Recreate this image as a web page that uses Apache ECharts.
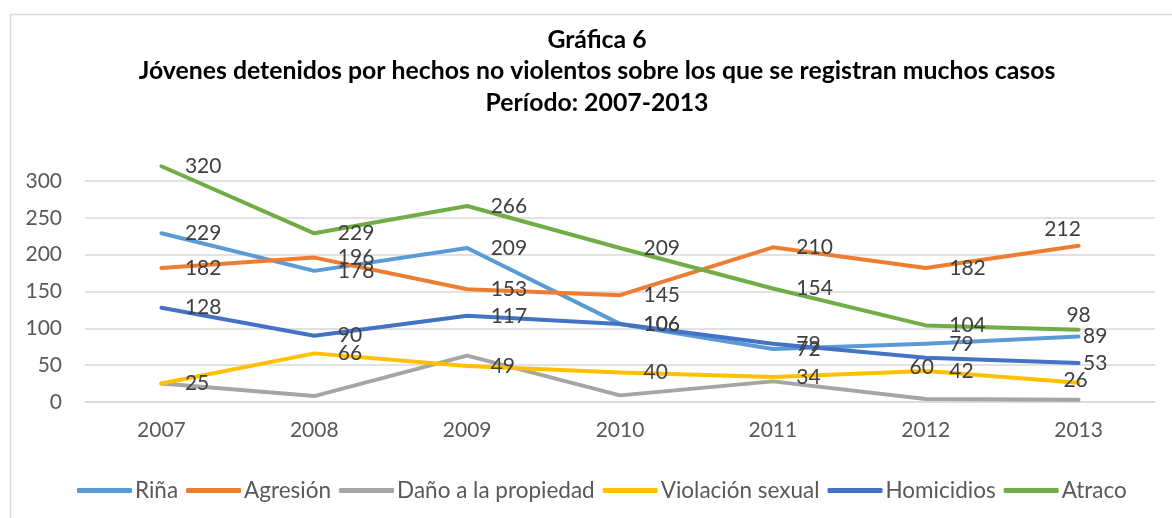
<!DOCTYPE html>
<html>
<head>
<meta charset="utf-8">
<script src="https://cdn.jsdelivr.net/npm/echarts@6/dist/echarts.min.js"></script>
<style>html,body{margin:0;padding:0;background:#fff}#c{width:1172px;height:518px}</style>
</head>
<body>
<div id="c"></div>
<script>
const categories = ['2007', '2008', '2009', '2010', '2011', '2012', '2013'];
const rina = [229, 178, 209, 106, 72, 79, 89];
const agresion = [182, 196, 153, 145, 210, 182, 212];
const dano = [25, 8, 63, 9, 28, 4, 3];
const violacion = [25, 66, 49, 40, 34, 42, 26];
const homicidios = [128, 90, 117, 106, 79, 60, 53];
const atraco = [320, 229, 266, 209, 154, 104, 98];
const yTicks = [0, 50, 100, 150, 200, 250, 300];

const FONT = 'Lato';
const LBL = { show: true, position: 'right', distance: 23, color: '#404040', fontFamily: FONT, fontSize: 21 };

function withLabels(vals, overrides) {
  return vals.map((v, i) => {
    const o = overrides && overrides[i];
    return o ? { value: v, label: o } : v;
  });
}

function mk(name, color, data, showLabel) {
  return {
    name, type: 'line', data,
    symbol: 'circle', symbolSize: 1, showSymbol: true,
    clip: false,
    lineStyle: { color, width: 4, cap: 'round', join: 'round' },
    itemStyle: { color },
    label: showLabel ? LBL : { show: false },
    emphasis: { disabled: true },
    z: 2
  };
}

const chart = echarts.init(document.getElementById('c'), null, { renderer: 'canvas' });
chart.setOption({
  animation: false,
  backgroundColor: '#fff',
  title: {
    text: 'Gráfica 6\nJóvenes detenidos por hechos no violentos sobre los que se registran muchos casos\nPeríodo: 2007-2013',
    left: 597,
    textAlign: 'center',
    top: 24,
    padding: 0,
    textStyle: { fontFamily: FONT, fontWeight: 'bold', fontSize: 24.8, color: '#000', lineHeight: 31.5 }
  },
  graphic: [{
    type: 'rect', left: 8, top: 12, silent: true,
    shape: { width: 1300, height: 700 },
    style: { fill: 'none', stroke: '#d9d9d9', lineWidth: 1.5 }
  }],
  grid: { left: 85, right: 17, top: 181, bottom: 116 },
  legend: {
    left: 72, top: 474,
    itemWidth: 55, itemHeight: 5, itemGap: 8,
    icon: 'roundRect',
    textStyle: { fontFamily: FONT, fontSize: 22.5, color: '#595959', padding: [0, 0, 0, -2] },
    data: ['Riña', 'Agresión', 'Daño a la propiedad', 'Violación sexual', 'Homicidios', 'Atraco']
  },
  xAxis: {
    type: 'category', data: categories, boundaryGap: true,
    axisLine: { show: true, lineStyle: { color: '#d9d9d9', width: 1.5 } },
    axisTick: { show: false },
    axisLabel: { color: '#595959', fontFamily: FONT, fontSize: 21, margin: 18 }
  },
  yAxis: {
    type: 'value', min: yTicks[0], max: yTicks[yTicks.length - 1], interval: 50,
    axisLine: { show: false }, axisTick: { show: false },
    axisLabel: { color: '#595959', fontFamily: FONT, fontSize: 21, margin: 23 },
    splitLine: { lineStyle: { color: '#d9d9d9', width: 1.5 } }
  },
  series: [
    mk('Riña', '#5B9BD5', withLabels(rina, { 6: { distance: 4 } }), true),
    mk('Agresión', '#ED7D31', withLabels(agresion, { 6: { position: 'top', distance: 6, offset: [-16, 0] } }), true),
    mk('Daño a la propiedad', '#A5A5A5', dano, false),
    mk('Violación sexual', '#FFC000', withLabels(violacion, { 6: { position: 'inside', offset: [-3, -3] } }), true),
    mk('Homicidios', '#4472C4', withLabels(homicidios, { 5: { position: 'inside', offset: [-4, 9] }, 6: { distance: 4 } }), true),
    mk('Atraco', '#70AD47', withLabels(atraco, { 6: { position: 'top', distance: 4 } }), true)
  ]
});
</script>
</body>
</html>
